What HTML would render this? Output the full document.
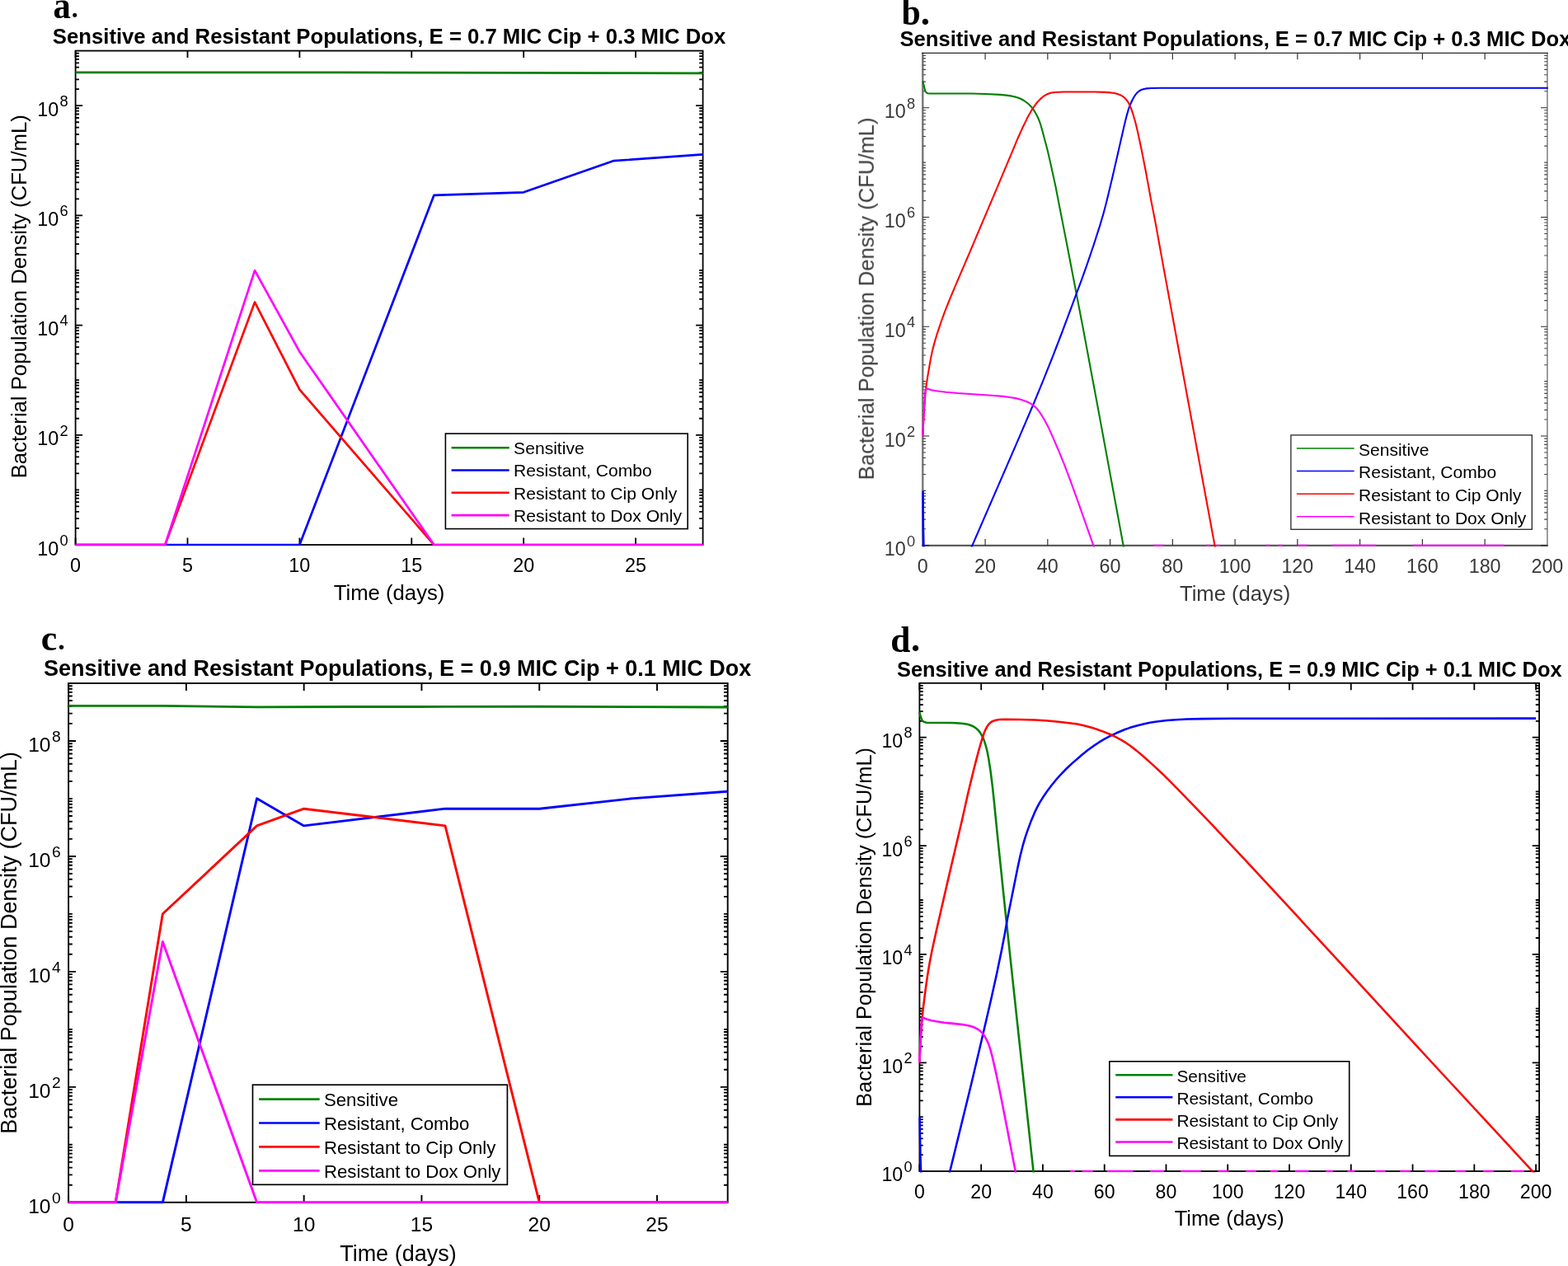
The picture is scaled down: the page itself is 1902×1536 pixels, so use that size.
<!DOCTYPE html>
<html lang="en">
<head>
<meta charset="utf-8">
<title>Sensitive and Resistant Populations</title>
<style>
html,body{margin:0;padding:0;background:#fff;}
body{width:1902px;height:1536px;overflow:hidden;}
svg{display:block;}
</style>
</head>
<body>
<svg width="1902" height="1536" viewBox="0 0 1902 1536">
<defs>
<filter id="soft" x="-5%" y="-5%" width="110%" height="110%" color-interpolation-filters="sRGB"><feGaussianBlur stdDeviation="0.55"/></filter>
</defs>
<rect width="1902" height="1536" fill="#fff"/>
<g id="panel-a">
<clipPath id="clipa"><rect x="90.1" y="60.6" width="764" height="602"/></clipPath>
<g stroke="#000" stroke-width="1.8" fill="none" stroke-linecap="butt">
<rect x="91.6" y="61.6" width="761" height="599.4"/>
<path stroke="#000" stroke-width="1.8" d="M91.6,661v-8.5M91.6,61.6v8.5M227.49,661v-8.5M227.49,61.6v8.5M363.39,661v-8.5M363.39,61.6v8.5M499.28,661v-8.5M499.28,61.6v8.5M635.17,661v-8.5M635.17,61.6v8.5M771.06,661v-8.5M771.06,61.6v8.5"/>
<path stroke="#000" stroke-width="1.8" d="M91.6,661h8.5M852.6,661h-8.5M91.6,527.8h8.5M852.6,527.8h-8.5M91.6,394.6h8.5M852.6,394.6h-8.5M91.6,261.4h8.5M852.6,261.4h-8.5M91.6,128.2h8.5M852.6,128.2h-8.5"/>
<path stroke="#000" stroke-width="1.8" d="M91.6,640.95h4.4M852.6,640.95h-4.4M91.6,629.22h4.4M852.6,629.22h-4.4M91.6,620.9h4.4M852.6,620.9h-4.4M91.6,614.45h4.4M852.6,614.45h-4.4M91.6,609.18h4.4M852.6,609.18h-4.4M91.6,604.72h4.4M852.6,604.72h-4.4M91.6,600.85h4.4M852.6,600.85h-4.4M91.6,597.45h4.4M852.6,597.45h-4.4M91.6,594.4h4.4M852.6,594.4h-4.4M91.6,574.35h4.4M852.6,574.35h-4.4M91.6,562.62h4.4M852.6,562.62h-4.4M91.6,554.3h4.4M852.6,554.3h-4.4M91.6,547.85h4.4M852.6,547.85h-4.4M91.6,542.58h4.4M852.6,542.58h-4.4M91.6,538.12h4.4M852.6,538.12h-4.4M91.6,534.25h4.4M852.6,534.25h-4.4M91.6,530.85h4.4M852.6,530.85h-4.4M91.6,507.75h4.4M852.6,507.75h-4.4M91.6,496.02h4.4M852.6,496.02h-4.4M91.6,487.7h4.4M852.6,487.7h-4.4M91.6,481.25h4.4M852.6,481.25h-4.4M91.6,475.98h4.4M852.6,475.98h-4.4M91.6,471.52h4.4M852.6,471.52h-4.4M91.6,467.65h4.4M852.6,467.65h-4.4M91.6,464.25h4.4M852.6,464.25h-4.4M91.6,461.2h4.4M852.6,461.2h-4.4M91.6,441.15h4.4M852.6,441.15h-4.4M91.6,429.42h4.4M852.6,429.42h-4.4M91.6,421.1h4.4M852.6,421.1h-4.4M91.6,414.65h4.4M852.6,414.65h-4.4M91.6,409.38h4.4M852.6,409.38h-4.4M91.6,404.92h4.4M852.6,404.92h-4.4M91.6,401.05h4.4M852.6,401.05h-4.4M91.6,397.65h4.4M852.6,397.65h-4.4M91.6,374.55h4.4M852.6,374.55h-4.4M91.6,362.82h4.4M852.6,362.82h-4.4M91.6,354.5h4.4M852.6,354.5h-4.4M91.6,348.05h4.4M852.6,348.05h-4.4M91.6,342.78h4.4M852.6,342.78h-4.4M91.6,338.32h4.4M852.6,338.32h-4.4M91.6,334.45h4.4M852.6,334.45h-4.4M91.6,331.05h4.4M852.6,331.05h-4.4M91.6,328h4.4M852.6,328h-4.4M91.6,307.95h4.4M852.6,307.95h-4.4M91.6,296.22h4.4M852.6,296.22h-4.4M91.6,287.9h4.4M852.6,287.9h-4.4M91.6,281.45h4.4M852.6,281.45h-4.4M91.6,276.18h4.4M852.6,276.18h-4.4M91.6,271.72h4.4M852.6,271.72h-4.4M91.6,267.85h4.4M852.6,267.85h-4.4M91.6,264.45h4.4M852.6,264.45h-4.4M91.6,241.35h4.4M852.6,241.35h-4.4M91.6,229.62h4.4M852.6,229.62h-4.4M91.6,221.3h4.4M852.6,221.3h-4.4M91.6,214.85h4.4M852.6,214.85h-4.4M91.6,209.58h4.4M852.6,209.58h-4.4M91.6,205.12h4.4M852.6,205.12h-4.4M91.6,201.25h4.4M852.6,201.25h-4.4M91.6,197.85h4.4M852.6,197.85h-4.4M91.6,194.8h4.4M852.6,194.8h-4.4M91.6,174.75h4.4M852.6,174.75h-4.4M91.6,163.02h4.4M852.6,163.02h-4.4M91.6,154.7h4.4M852.6,154.7h-4.4M91.6,148.25h4.4M852.6,148.25h-4.4M91.6,142.98h4.4M852.6,142.98h-4.4M91.6,138.52h4.4M852.6,138.52h-4.4M91.6,134.65h4.4M852.6,134.65h-4.4M91.6,131.25h4.4M852.6,131.25h-4.4M91.6,108.15h4.4M852.6,108.15h-4.4M91.6,96.42h4.4M852.6,96.42h-4.4M91.6,88.1h4.4M852.6,88.1h-4.4M91.6,81.65h4.4M852.6,81.65h-4.4M91.6,76.38h4.4M852.6,76.38h-4.4M91.6,71.92h4.4M852.6,71.92h-4.4M91.6,68.05h4.4M852.6,68.05h-4.4M91.6,64.65h4.4M852.6,64.65h-4.4"/>
</g>
<g clip-path="url(#clipa)" fill="none" stroke-width="2.7" stroke-linejoin="round" stroke-linecap="butt">
<path stroke="#008000" d="M91.6,87.8 L417.74,87.9 L526.46,88.2 L635.17,88.3 L743.89,88.6 L852.6,88.8"/>
<path stroke="#0000ff" d="M91.6,661 L363.39,661 L526.46,236.8 L635.17,233.3 L743.89,195.2 L852.6,187.3"/>
<path stroke="#ff0000" d="M91.6,661 L200.31,661 L309.03,366.6 L363.39,472.7 L526.46,661 L852.6,661"/>
<path stroke="#ff00ff" d="M91.6,661 L200.31,661 L309.03,328.2 L363.39,426.7 L526.46,661 L852.6,661"/>
</g>
<g font-family="'Liberation Sans', Arial, Helvetica, sans-serif" fill="#000">
<g font-size="23.4" text-anchor="middle">
<text x="91.6" y="694">0</text>
<text x="227.49" y="694">5</text>
<text x="363.39" y="694">10</text>
<text x="499.28" y="694">15</text>
<text x="635.17" y="694">20</text>
<text x="771.06" y="694">25</text>
</g>
<text font-size="23.4" text-anchor="end" x="71.2" y="673.5">10</text>
<text font-size="18.3" x="72.5" y="661.8">0</text>
<text font-size="23.4" text-anchor="end" x="71.2" y="540.3">10</text>
<text font-size="18.3" x="72.5" y="528.6">2</text>
<text font-size="23.4" text-anchor="end" x="71.2" y="407.1">10</text>
<text font-size="18.3" x="72.5" y="395.4">4</text>
<text font-size="23.4" text-anchor="end" x="71.2" y="273.9">10</text>
<text font-size="18.3" x="72.5" y="262.2">6</text>
<text font-size="23.4" text-anchor="end" x="71.2" y="140.7">10</text>
<text font-size="18.3" x="72.5" y="129">8</text>
<text font-size="25.7" text-anchor="middle" x="472.1" y="728">Time (days)</text>
<text font-size="25.7" text-anchor="middle" transform="translate(32,359.8) rotate(-90)">Bacterial Population Density (CFU/mL)</text>
<text font-size="25.7" font-weight="bold" fill="#000" text-anchor="middle" x="472.1" y="52.9">Sensitive and Resistant Populations, E = 0.7 MIC Cip + 0.3 MIC Dox</text>
</g>
<rect x="540.4" y="526.1" width="293.8" height="115.5" fill="#fff" stroke="#000" stroke-width="1.6"/>
<g font-family="'Liberation Sans', Arial, Helvetica, sans-serif" font-size="21.1" fill="#000">
<path d="M547.6,543.2H617.7" stroke="#008000" stroke-width="2.6" fill="none"/>
<text x="623.1" y="551">Sensitive</text>
<path d="M547.6,570.5H617.7" stroke="#0000ff" stroke-width="2.6" fill="none"/>
<text x="623.1" y="578.3">Resistant, Combo</text>
<path d="M547.6,597.8H617.7" stroke="#ff0000" stroke-width="2.6" fill="none"/>
<text x="623.1" y="605.6">Resistant to Cip Only</text>
<path d="M547.6,625.1H617.7" stroke="#ff00ff" stroke-width="2.6" fill="none"/>
<text x="623.1" y="632.9">Resistant to Dox Only</text>
</g>
</g>
<text font-family="'Liberation Serif', 'Times New Roman', Times, serif" font-weight="bold" fill="#000"><tspan x="64.4" y="21.9" font-size="45.5" textLength="21.32" lengthAdjust="spacingAndGlyphs">a</tspan><tspan x="86.65" y="20.7" font-size="31.5">.</tspan></text>
<g id="panel-c">
<clipPath id="clipc"><rect x="81.6" y="828" width="802.6" height="632.4"/></clipPath>
<g stroke="#000" stroke-width="1.9" fill="none" stroke-linecap="butt">
<rect x="83.1" y="829" width="799.6" height="629.8"/>
<path stroke="#000" stroke-width="1.9" d="M83.1,1458.8v-8.9M83.1,829v8.9M225.89,1458.8v-8.9M225.89,829v8.9M368.67,1458.8v-8.9M368.67,829v8.9M511.46,1458.8v-8.9M511.46,829v8.9M654.24,1458.8v-8.9M654.24,829v8.9M797.03,1458.8v-8.9M797.03,829v8.9"/>
<path stroke="#000" stroke-width="1.9" d="M83.1,1458.8h8.9M882.7,1458.8h-8.9M83.1,1318.84h8.9M882.7,1318.84h-8.9M83.1,1178.89h8.9M882.7,1178.89h-8.9M83.1,1038.93h8.9M882.7,1038.93h-8.9M83.1,898.98h8.9M882.7,898.98h-8.9"/>
<path stroke="#000" stroke-width="1.9" d="M83.1,1437.73h4.7M882.7,1437.73h-4.7M83.1,1425.41h4.7M882.7,1425.41h-4.7M83.1,1416.67h4.7M882.7,1416.67h-4.7M83.1,1409.89h4.7M882.7,1409.89h-4.7M83.1,1404.35h4.7M882.7,1404.35h-4.7M83.1,1399.66h4.7M882.7,1399.66h-4.7M83.1,1395.6h4.7M882.7,1395.6h-4.7M83.1,1392.02h4.7M882.7,1392.02h-4.7M83.1,1388.82h4.7M882.7,1388.82h-4.7M83.1,1367.76h4.7M882.7,1367.76h-4.7M83.1,1355.43h4.7M882.7,1355.43h-4.7M83.1,1346.69h4.7M882.7,1346.69h-4.7M83.1,1339.91h4.7M882.7,1339.91h-4.7M83.1,1334.37h4.7M882.7,1334.37h-4.7M83.1,1329.68h4.7M882.7,1329.68h-4.7M83.1,1325.63h4.7M882.7,1325.63h-4.7M83.1,1322.05h4.7M882.7,1322.05h-4.7M83.1,1297.78h4.7M882.7,1297.78h-4.7M83.1,1285.46h4.7M882.7,1285.46h-4.7M83.1,1276.71h4.7M882.7,1276.71h-4.7M83.1,1269.93h4.7M882.7,1269.93h-4.7M83.1,1264.39h4.7M882.7,1264.39h-4.7M83.1,1259.71h4.7M882.7,1259.71h-4.7M83.1,1255.65h4.7M882.7,1255.65h-4.7M83.1,1252.07h4.7M882.7,1252.07h-4.7M83.1,1248.87h4.7M882.7,1248.87h-4.7M83.1,1227.8h4.7M882.7,1227.8h-4.7M83.1,1215.48h4.7M882.7,1215.48h-4.7M83.1,1206.74h4.7M882.7,1206.74h-4.7M83.1,1199.95h4.7M882.7,1199.95h-4.7M83.1,1194.41h4.7M882.7,1194.41h-4.7M83.1,1189.73h4.7M882.7,1189.73h-4.7M83.1,1185.67h4.7M882.7,1185.67h-4.7M83.1,1182.09h4.7M882.7,1182.09h-4.7M83.1,1157.82h4.7M882.7,1157.82h-4.7M83.1,1145.5h4.7M882.7,1145.5h-4.7M83.1,1136.76h4.7M882.7,1136.76h-4.7M83.1,1129.98h4.7M882.7,1129.98h-4.7M83.1,1124.44h4.7M882.7,1124.44h-4.7M83.1,1119.75h4.7M882.7,1119.75h-4.7M83.1,1115.69h4.7M882.7,1115.69h-4.7M83.1,1112.11h4.7M882.7,1112.11h-4.7M83.1,1108.91h4.7M882.7,1108.91h-4.7M83.1,1087.85h4.7M882.7,1087.85h-4.7M83.1,1075.52h4.7M882.7,1075.52h-4.7M83.1,1066.78h4.7M882.7,1066.78h-4.7M83.1,1060h4.7M882.7,1060h-4.7M83.1,1054.46h4.7M882.7,1054.46h-4.7M83.1,1049.77h4.7M882.7,1049.77h-4.7M83.1,1045.71h4.7M882.7,1045.71h-4.7M83.1,1042.14h4.7M882.7,1042.14h-4.7M83.1,1017.87h4.7M882.7,1017.87h-4.7M83.1,1005.55h4.7M882.7,1005.55h-4.7M83.1,996.8h4.7M882.7,996.8h-4.7M83.1,990.02h4.7M882.7,990.02h-4.7M83.1,984.48h4.7M882.7,984.48h-4.7M83.1,979.8h4.7M882.7,979.8h-4.7M83.1,975.74h4.7M882.7,975.74h-4.7M83.1,972.16h4.7M882.7,972.16h-4.7M83.1,968.96h4.7M882.7,968.96h-4.7M83.1,947.89h4.7M882.7,947.89h-4.7M83.1,935.57h4.7M882.7,935.57h-4.7M83.1,926.82h4.7M882.7,926.82h-4.7M83.1,920.04h4.7M882.7,920.04h-4.7M83.1,914.5h4.7M882.7,914.5h-4.7M83.1,909.82h4.7M882.7,909.82h-4.7M83.1,905.76h4.7M882.7,905.76h-4.7M83.1,902.18h4.7M882.7,902.18h-4.7M83.1,877.91h4.7M882.7,877.91h-4.7M83.1,865.59h4.7M882.7,865.59h-4.7M83.1,856.85h4.7M882.7,856.85h-4.7M83.1,850.07h4.7M882.7,850.07h-4.7M83.1,844.52h4.7M882.7,844.52h-4.7M83.1,839.84h4.7M882.7,839.84h-4.7M83.1,835.78h4.7M882.7,835.78h-4.7M83.1,832.2h4.7M882.7,832.2h-4.7"/>
</g>
<g clip-path="url(#clipc)" fill="none" stroke-width="2.9" stroke-linejoin="round" stroke-linecap="butt">
<path stroke="#008000" d="M83.1,856.4 L197.33,856.4 L311.56,857.9 L425.79,857.5 L540.01,857.4 L654.24,857.3 L768.47,857.6 L882.7,858"/>
<path stroke="#0000ff" d="M83.1,1458.8 L197.33,1458.8 L311.56,968.8 L368.67,1001.9 L540.01,981.1 L654.24,981.2 L768.47,968.6 L882.7,960.2"/>
<path stroke="#ff0000" d="M83.1,1458.8 L140.21,1458.8 L197.33,1108.8 L311.56,1001.9 L368.67,981.2 L540.01,1001.9 L654.24,1458.8 L882.7,1458.8"/>
<path stroke="#ff00ff" d="M83.1,1458.8 L140.21,1458.8 L197.33,1142.4 L311.56,1458.8 L882.7,1458.8"/>
</g>
<g font-family="'Liberation Sans', Arial, Helvetica, sans-serif" fill="#000">
<g font-size="24.59" text-anchor="middle">
<text x="83.1" y="1493.6">0</text>
<text x="225.89" y="1493.6">5</text>
<text x="368.67" y="1493.6">10</text>
<text x="511.46" y="1493.6">15</text>
<text x="654.24" y="1493.6">20</text>
<text x="797.03" y="1493.6">25</text>
</g>
<text font-size="24.59" text-anchor="end" x="61.5" y="1471.9">10</text>
<text font-size="19.23" x="63.1" y="1459.6">0</text>
<text font-size="24.59" text-anchor="end" x="61.5" y="1331.94">10</text>
<text font-size="19.23" x="63.1" y="1319.64">2</text>
<text font-size="24.59" text-anchor="end" x="61.5" y="1191.99">10</text>
<text font-size="19.23" x="63.1" y="1179.69">4</text>
<text font-size="24.59" text-anchor="end" x="61.5" y="1052.03">10</text>
<text font-size="19.23" x="63.1" y="1039.73">6</text>
<text font-size="24.59" text-anchor="end" x="61.5" y="912.08">10</text>
<text font-size="19.23" x="63.1" y="899.78">8</text>
<text font-size="27.01" text-anchor="middle" x="482.9" y="1530.2">Time (days)</text>
<text font-size="27.01" text-anchor="middle" transform="translate(20,1143.9) rotate(-90)">Bacterial Population Density (CFU/mL)</text>
<text font-size="27.01" font-weight="bold" fill="#000" text-anchor="middle" x="482.1" y="820.3">Sensitive and Resistant Populations, E = 0.9 MIC Cip + 0.1 MIC Dox</text>
</g>
<rect x="306.5" y="1316.2" width="308.9" height="121.1" fill="#fff" stroke="#000" stroke-width="1.7"/>
<g font-family="'Liberation Sans', Arial, Helvetica, sans-serif" font-size="22.18" fill="#000">
<path d="M314.1,1333.6H387.7" stroke="#008000" stroke-width="2.7" fill="none"/>
<text x="393" y="1342.3">Sensitive</text>
<path d="M314.1,1362.5H387.7" stroke="#0000ff" stroke-width="2.7" fill="none"/>
<text x="393" y="1371.2">Resistant, Combo</text>
<path d="M314.1,1391.4H387.7" stroke="#ff0000" stroke-width="2.7" fill="none"/>
<text x="393" y="1400.1">Resistant to Cip Only</text>
<path d="M314.1,1420.3H387.7" stroke="#ff00ff" stroke-width="2.7" fill="none"/>
<text x="393" y="1429">Resistant to Dox Only</text>
</g>
</g>
<text font-family="'Liberation Serif', 'Times New Roman', Times, serif" font-weight="bold" fill="#000"><tspan x="49.7" y="788.9" font-size="45" textLength="19.48" lengthAdjust="spacingAndGlyphs">c</tspan><tspan x="70.27" y="788.2" font-size="34">.</tspan></text>
<g id="panel-b" filter="url(#soft)">
<clipPath id="clipb"><rect x="1117.8" y="63.4" width="760.6" height="600"/></clipPath>
<g stroke="#6a6a6a" stroke-width="2.3" fill="none" stroke-linecap="butt">
<path stroke="#7c7c7c" stroke-width="2.5" d="M1119.3,63.75V662.95"/>
<path stroke="#8c8c8c" stroke-width="1.7" d="M1876.9,63.75V662.95"/>
<path stroke="#5c5c5c" stroke-width="2.3" d="M1118.05,661.8H1877.75"/>
<path stroke="#2a2a2a" stroke-width="1.3" d="M1118.05,64.4H1877.75"/>
<path stroke="#2b2b2b" stroke-width="1.15" d="M1195.06,661.8v-7.9M1195.06,64.4v7.9M1270.82,661.8v-7.9M1270.82,64.4v7.9M1346.58,661.8v-7.9M1346.58,64.4v7.9M1422.34,661.8v-7.9M1422.34,64.4v7.9M1498.1,661.8v-7.9M1498.1,64.4v7.9M1573.86,661.8v-7.9M1573.86,64.4v7.9M1649.62,661.8v-7.9M1649.62,64.4v7.9M1725.38,661.8v-7.9M1725.38,64.4v7.9M1801.14,661.8v-7.9M1801.14,64.4v7.9"/>
<path stroke="#2b2b2b" stroke-width="1.15" d="M1119.3,661.8h7.9M1876.9,661.8h-7.9M1119.3,529.04h7.9M1876.9,529.04h-7.9M1119.3,396.29h7.9M1876.9,396.29h-7.9M1119.3,263.53h7.9M1876.9,263.53h-7.9M1119.3,130.78h7.9M1876.9,130.78h-7.9"/>
<path stroke="#444" stroke-width="1.1" d="M1119.3,641.82h3.7M1876.9,641.82h-3.7M1119.3,630.13h3.7M1876.9,630.13h-3.7M1119.3,621.84h3.7M1876.9,621.84h-3.7M1119.3,615.4h3.7M1876.9,615.4h-3.7M1119.3,610.15h3.7M1876.9,610.15h-3.7M1119.3,605.7h3.7M1876.9,605.7h-3.7M1119.3,601.85h3.7M1876.9,601.85h-3.7M1119.3,598.46h3.7M1876.9,598.46h-3.7M1119.3,595.42h3.7M1876.9,595.42h-3.7M1119.3,575.44h3.7M1876.9,575.44h-3.7M1119.3,563.75h3.7M1876.9,563.75h-3.7M1119.3,555.46h3.7M1876.9,555.46h-3.7M1119.3,549.03h3.7M1876.9,549.03h-3.7M1119.3,543.77h3.7M1876.9,543.77h-3.7M1119.3,539.33h3.7M1876.9,539.33h-3.7M1119.3,535.48h3.7M1876.9,535.48h-3.7M1119.3,532.08h3.7M1876.9,532.08h-3.7M1119.3,509.06h3.7M1876.9,509.06h-3.7M1119.3,497.37h3.7M1876.9,497.37h-3.7M1119.3,489.08h3.7M1876.9,489.08h-3.7M1119.3,482.65h3.7M1876.9,482.65h-3.7M1119.3,477.39h3.7M1876.9,477.39h-3.7M1119.3,472.95h3.7M1876.9,472.95h-3.7M1119.3,469.1h3.7M1876.9,469.1h-3.7M1119.3,465.7h3.7M1876.9,465.7h-3.7M1119.3,462.67h3.7M1876.9,462.67h-3.7M1119.3,442.68h3.7M1876.9,442.68h-3.7M1119.3,431h3.7M1876.9,431h-3.7M1119.3,422.7h3.7M1876.9,422.7h-3.7M1119.3,416.27h3.7M1876.9,416.27h-3.7M1119.3,411.01h3.7M1876.9,411.01h-3.7M1119.3,406.57h3.7M1876.9,406.57h-3.7M1119.3,402.72h3.7M1876.9,402.72h-3.7M1119.3,399.33h3.7M1876.9,399.33h-3.7M1119.3,376.31h3.7M1876.9,376.31h-3.7M1119.3,364.62h3.7M1876.9,364.62h-3.7M1119.3,356.33h3.7M1876.9,356.33h-3.7M1119.3,349.89h3.7M1876.9,349.89h-3.7M1119.3,344.64h3.7M1876.9,344.64h-3.7M1119.3,340.19h3.7M1876.9,340.19h-3.7M1119.3,336.34h3.7M1876.9,336.34h-3.7M1119.3,332.95h3.7M1876.9,332.95h-3.7M1119.3,329.91h3.7M1876.9,329.91h-3.7M1119.3,309.93h3.7M1876.9,309.93h-3.7M1119.3,298.24h3.7M1876.9,298.24h-3.7M1119.3,289.95h3.7M1876.9,289.95h-3.7M1119.3,283.52h3.7M1876.9,283.52h-3.7M1119.3,278.26h3.7M1876.9,278.26h-3.7M1119.3,273.82h3.7M1876.9,273.82h-3.7M1119.3,269.97h3.7M1876.9,269.97h-3.7M1119.3,266.57h3.7M1876.9,266.57h-3.7M1119.3,243.55h3.7M1876.9,243.55h-3.7M1119.3,231.86h3.7M1876.9,231.86h-3.7M1119.3,223.57h3.7M1876.9,223.57h-3.7M1119.3,217.14h3.7M1876.9,217.14h-3.7M1119.3,211.88h3.7M1876.9,211.88h-3.7M1119.3,207.44h3.7M1876.9,207.44h-3.7M1119.3,203.59h3.7M1876.9,203.59h-3.7M1119.3,200.19h3.7M1876.9,200.19h-3.7M1119.3,197.16h3.7M1876.9,197.16h-3.7M1119.3,177.17h3.7M1876.9,177.17h-3.7M1119.3,165.49h3.7M1876.9,165.49h-3.7M1119.3,157.19h3.7M1876.9,157.19h-3.7M1119.3,150.76h3.7M1876.9,150.76h-3.7M1119.3,145.5h3.7M1876.9,145.5h-3.7M1119.3,141.06h3.7M1876.9,141.06h-3.7M1119.3,137.21h3.7M1876.9,137.21h-3.7M1119.3,133.82h3.7M1876.9,133.82h-3.7M1119.3,110.8h3.7M1876.9,110.8h-3.7M1119.3,99.11h3.7M1876.9,99.11h-3.7M1119.3,90.81h3.7M1876.9,90.81h-3.7M1119.3,84.38h3.7M1876.9,84.38h-3.7M1119.3,79.13h3.7M1876.9,79.13h-3.7M1119.3,74.68h3.7M1876.9,74.68h-3.7M1119.3,70.83h3.7M1876.9,70.83h-3.7M1119.3,67.44h3.7M1876.9,67.44h-3.7"/>
</g>
<g clip-path="url(#clipb)" fill="none" stroke-width="2.1" stroke-linejoin="round" stroke-linecap="butt">
<path stroke="#008000" d="M1119.4,98.4 L1121.73,108.38 L1122.69,110.96 L1123.21,111.81 L1124.32,112.8 L1125.22,113.24 L1127.95,113.49 L1178.45,113.49 L1195.45,113.93 L1213.17,114.9 L1220.88,115.65 L1227.55,116.66 L1231.93,117.63 L1235.48,118.77 L1238.89,120.28 L1242.36,122.25 L1245.62,124.54 L1248.46,126.96 L1251.04,129.66 L1253.34,132.6 L1255.75,136.38 L1258.21,141.01 L1260.35,145.8 L1262.13,150.73 L1264.21,157.93 L1270.72,182.59 L1274.03,196.96 L1280.16,224.79 L1287.22,261.11 L1293.4,292.51 L1313.96,399.3 L1331.64,493.91 L1364.07,669.69"/>
<path stroke="#0000ff" d="M1175.93,669.75 L1235.66,532.16 L1253.28,491.02 L1265.58,461.21 L1277.49,431.24 L1288.34,403 L1312.31,338.56 L1318.88,320.21 L1326.71,296.99 L1333.9,274.62 L1338.44,259.28 L1341.83,246.47 L1348.99,216.82 L1356.95,181.97 L1363.72,152.23 L1366.68,140.34 L1368.9,132.66 L1370.75,127.49 L1372.96,122.46 L1375.17,118.27 L1377.2,115.14 L1379.08,112.84 L1380.86,111.16 L1382.86,109.78 L1385.06,108.73 L1387.64,107.96 L1391.07,107.39 L1396.54,107.02 L1407.29,106.82 L1877.79,106.75"/>
<path stroke="#0000ff" stroke-width="2.6" d="M1119.5,595.7 L1119.9,640 L1120.4,663.75"/>
<path stroke="#ff0000" d="M1119.3,529.3 L1120.9,500.09 L1122.27,480.89 L1123.4,469.2 L1124.93,458.56 L1128.96,435.15 L1131.04,425.37 L1133.44,415.93 L1136.52,405.63 L1141.92,389.51 L1145.87,378.71 L1152.22,362.67 L1160.74,342.39 L1175.12,308.84 L1206.9,233.79 L1227.49,184.95 L1234.96,166.95 L1240.63,154.42 L1245.78,143.86 L1249.91,136.15 L1252.91,131.25 L1256.09,126.77 L1259.27,122.92 L1262.23,119.89 L1265.06,117.46 L1267.72,115.62 L1270.33,114.22 L1272.86,113.25 L1275.74,112.54 L1279.69,112.05 L1289.92,111.53 L1303.67,111.44 L1327.92,111.52 L1340.66,111.92 L1347.39,112.42 L1351.83,113.06 L1355.46,113.93 L1358.25,114.94 L1360.67,116.16 L1362.91,117.68 L1364.94,119.48 L1366.9,121.71 L1368.57,124.17 L1370.19,127.24 L1372.09,131.85 L1374.51,138.95 L1377.09,147.83 L1379.67,158.27 L1384.29,179.77 L1389.58,206.5 L1393.81,229.62 L1396.93,246.59 L1401.11,267.67 L1410.5,319.58 L1433.97,447.19 L1458.33,579.72 L1474.96,669.7"/>
<path stroke="#ff00ff" d="M1119.3,529.3 L1121.36,488.35 L1122.21,476.63 L1122.71,472.67 L1122.96,471.7 L1123.1,471.5 L1124.59,471.63 L1126.99,472.32 L1129.84,473.26 L1137.46,474.57 L1147.39,475.75 L1161.59,476.99 L1183.79,478.43 L1202.75,479.68 L1216.69,480.91 L1225.13,481.96 L1231.77,483.14 L1237.35,484.5 L1242.1,486.03 L1246.5,487.81 L1250.05,489.61 L1252.98,491.48 L1255.48,493.51 L1257.92,496 L1260.57,499.3 L1263.34,503.45 L1268.14,511.64 L1271.5,518.06 L1275.65,527.16 L1284.59,547.81 L1290.82,563.09 L1297.75,581.31 L1306.99,606.95 L1325.84,660.47 L1329.15,669.65M1398.8,661.8H1411.5M1463.5,661.8H1467.7M1475.6,661.8H1479.8M1535.9,661.8H1540.2M1550.7,661.8H1555.4M1574,661.8H1586.2M1615.2,661.8H1669.1M1713.5,661.8H1825.1"/>
</g>
<g font-family="'Liberation Sans', Arial, Helvetica, sans-serif" fill="#383838">
<g font-size="23.33" text-anchor="middle">
<text x="1119.3" y="694.8">0</text>
<text x="1195.06" y="694.8">20</text>
<text x="1270.82" y="694.8">40</text>
<text x="1346.58" y="694.8">60</text>
<text x="1422.34" y="694.8">80</text>
<text x="1498.1" y="694.8">100</text>
<text x="1573.86" y="694.8">120</text>
<text x="1649.62" y="694.8">140</text>
<text x="1725.38" y="694.8">160</text>
<text x="1801.14" y="694.8">180</text>
<text x="1876.9" y="694.8">200</text>
</g>
<text font-size="23.33" text-anchor="end" x="1098.7" y="674.3">10</text>
<text font-size="18.25" x="1099.9" y="662.6">0</text>
<text font-size="23.33" text-anchor="end" x="1098.7" y="541.54">10</text>
<text font-size="18.25" x="1099.9" y="529.84">2</text>
<text font-size="23.33" text-anchor="end" x="1098.7" y="408.79">10</text>
<text font-size="18.25" x="1099.9" y="397.09">4</text>
<text font-size="23.33" text-anchor="end" x="1098.7" y="276.03">10</text>
<text font-size="18.25" x="1099.9" y="264.33">6</text>
<text font-size="23.33" text-anchor="end" x="1098.7" y="143.28">10</text>
<text font-size="18.25" x="1099.9" y="131.58">8</text>
<text font-size="25.62" text-anchor="middle" x="1498.1" y="729">Time (days)</text>
<text font-size="25.62" text-anchor="middle" transform="translate(1059.8,362.3) rotate(-90)">Bacterial Population Density (CFU/mL)</text>
<text font-size="25.62" font-weight="bold" fill="#000" text-anchor="middle" x="1498.5" y="55.6">Sensitive and Resistant Populations, E = 0.7 MIC Cip + 0.3 MIC Dox</text>
</g>
<rect x="1565.9" y="527.9" width="292.4" height="114.4" fill="#fff" stroke="#262626" stroke-width="1.3"/>
<g font-family="'Liberation Sans', Arial, Helvetica, sans-serif" font-size="21.04" fill="#000">
<path d="M1572.9,544H1642.7" stroke="#008000" stroke-width="1.5" fill="none"/>
<text x="1648" y="552.7">Sensitive</text>
<path d="M1572.9,571.6H1642.7" stroke="#0000ff" stroke-width="1.5" fill="none"/>
<text x="1648" y="580.3">Resistant, Combo</text>
<path d="M1572.9,599.2H1642.7" stroke="#ff0000" stroke-width="1.5" fill="none"/>
<text x="1648" y="607.9">Resistant to Cip Only</text>
<path d="M1572.9,626.8H1642.7" stroke="#ff00ff" stroke-width="1.5" fill="none"/>
<text x="1648" y="635.5">Resistant to Dox Only</text>
</g>
</g>
<text font-family="'Liberation Serif', 'Times New Roman', Times, serif" font-weight="bold" fill="#000"><tspan x="1093.6" y="29.5" font-size="45.5" textLength="23.27" lengthAdjust="spacingAndGlyphs">b</tspan><tspan x="1116.8" y="30" font-size="45">.</tspan></text>
<g id="panel-d">
<clipPath id="clipd"><rect x="1113.9" y="827.8" width="754.7" height="594.8"/></clipPath>
<g stroke="#000" stroke-width="1.8" fill="none" stroke-linecap="butt">
<rect x="1115.4" y="828.8" width="751.7" height="592.2"/>
<path stroke="#000" stroke-width="1.8" d="M1115.4,1421v-8.4M1115.4,828.8v8.4M1190.17,1421v-8.4M1190.17,828.8v8.4M1264.94,1421v-8.4M1264.94,828.8v8.4M1339.71,1421v-8.4M1339.71,828.8v8.4M1414.48,1421v-8.4M1414.48,828.8v8.4M1489.25,1421v-8.4M1489.25,828.8v8.4M1564.02,1421v-8.4M1564.02,828.8v8.4M1638.79,1421v-8.4M1638.79,828.8v8.4M1713.56,1421v-8.4M1713.56,828.8v8.4M1788.33,1421v-8.4M1788.33,828.8v8.4M1863.1,1421v-8.4M1863.1,828.8v8.4"/>
<path stroke="#000" stroke-width="1.8" d="M1115.4,1421h8.4M1867.1,1421h-8.4M1115.4,1289.4h8.4M1867.1,1289.4h-8.4M1115.4,1157.8h8.4M1867.1,1157.8h-8.4M1115.4,1026.2h8.4M1867.1,1026.2h-8.4M1115.4,894.6h8.4M1867.1,894.6h-8.4"/>
<path stroke="#000" stroke-width="1.8" d="M1115.4,1401.19h4.3M1867.1,1401.19h-4.3M1115.4,1389.61h4.3M1867.1,1389.61h-4.3M1115.4,1381.38h4.3M1867.1,1381.38h-4.3M1115.4,1375.01h4.3M1867.1,1375.01h-4.3M1115.4,1369.8h4.3M1867.1,1369.8h-4.3M1115.4,1365.39h4.3M1867.1,1365.39h-4.3M1115.4,1361.58h4.3M1867.1,1361.58h-4.3M1115.4,1358.21h4.3M1867.1,1358.21h-4.3M1115.4,1355.2h4.3M1867.1,1355.2h-4.3M1115.4,1335.39h4.3M1867.1,1335.39h-4.3M1115.4,1323.81h4.3M1867.1,1323.81h-4.3M1115.4,1315.58h4.3M1867.1,1315.58h-4.3M1115.4,1309.21h4.3M1867.1,1309.21h-4.3M1115.4,1304h4.3M1867.1,1304h-4.3M1115.4,1299.59h4.3M1867.1,1299.59h-4.3M1115.4,1295.78h4.3M1867.1,1295.78h-4.3M1115.4,1292.41h4.3M1867.1,1292.41h-4.3M1115.4,1269.59h4.3M1867.1,1269.59h-4.3M1115.4,1258.01h4.3M1867.1,1258.01h-4.3M1115.4,1249.78h4.3M1867.1,1249.78h-4.3M1115.4,1243.41h4.3M1867.1,1243.41h-4.3M1115.4,1238.2h4.3M1867.1,1238.2h-4.3M1115.4,1233.79h4.3M1867.1,1233.79h-4.3M1115.4,1229.98h4.3M1867.1,1229.98h-4.3M1115.4,1226.61h4.3M1867.1,1226.61h-4.3M1115.4,1223.6h4.3M1867.1,1223.6h-4.3M1115.4,1203.79h4.3M1867.1,1203.79h-4.3M1115.4,1192.21h4.3M1867.1,1192.21h-4.3M1115.4,1183.98h4.3M1867.1,1183.98h-4.3M1115.4,1177.61h4.3M1867.1,1177.61h-4.3M1115.4,1172.4h4.3M1867.1,1172.4h-4.3M1115.4,1167.99h4.3M1867.1,1167.99h-4.3M1115.4,1164.18h4.3M1867.1,1164.18h-4.3M1115.4,1160.81h4.3M1867.1,1160.81h-4.3M1115.4,1137.99h4.3M1867.1,1137.99h-4.3M1115.4,1126.41h4.3M1867.1,1126.41h-4.3M1115.4,1118.18h4.3M1867.1,1118.18h-4.3M1115.4,1111.81h4.3M1867.1,1111.81h-4.3M1115.4,1106.6h4.3M1867.1,1106.6h-4.3M1115.4,1102.19h4.3M1867.1,1102.19h-4.3M1115.4,1098.38h4.3M1867.1,1098.38h-4.3M1115.4,1095.01h4.3M1867.1,1095.01h-4.3M1115.4,1092h4.3M1867.1,1092h-4.3M1115.4,1072.19h4.3M1867.1,1072.19h-4.3M1115.4,1060.61h4.3M1867.1,1060.61h-4.3M1115.4,1052.38h4.3M1867.1,1052.38h-4.3M1115.4,1046.01h4.3M1867.1,1046.01h-4.3M1115.4,1040.8h4.3M1867.1,1040.8h-4.3M1115.4,1036.39h4.3M1867.1,1036.39h-4.3M1115.4,1032.58h4.3M1867.1,1032.58h-4.3M1115.4,1029.21h4.3M1867.1,1029.21h-4.3M1115.4,1006.39h4.3M1867.1,1006.39h-4.3M1115.4,994.81h4.3M1867.1,994.81h-4.3M1115.4,986.58h4.3M1867.1,986.58h-4.3M1115.4,980.21h4.3M1867.1,980.21h-4.3M1115.4,975h4.3M1867.1,975h-4.3M1115.4,970.59h4.3M1867.1,970.59h-4.3M1115.4,966.78h4.3M1867.1,966.78h-4.3M1115.4,963.41h4.3M1867.1,963.41h-4.3M1115.4,960.4h4.3M1867.1,960.4h-4.3M1115.4,940.59h4.3M1867.1,940.59h-4.3M1115.4,929.01h4.3M1867.1,929.01h-4.3M1115.4,920.78h4.3M1867.1,920.78h-4.3M1115.4,914.41h4.3M1867.1,914.41h-4.3M1115.4,909.2h4.3M1867.1,909.2h-4.3M1115.4,904.79h4.3M1867.1,904.79h-4.3M1115.4,900.98h4.3M1867.1,900.98h-4.3M1115.4,897.61h4.3M1867.1,897.61h-4.3M1115.4,874.79h4.3M1867.1,874.79h-4.3M1115.4,863.21h4.3M1867.1,863.21h-4.3M1115.4,854.98h4.3M1867.1,854.98h-4.3M1115.4,848.61h4.3M1867.1,848.61h-4.3M1115.4,843.4h4.3M1867.1,843.4h-4.3M1115.4,838.99h4.3M1867.1,838.99h-4.3M1115.4,835.18h4.3M1867.1,835.18h-4.3M1115.4,831.81h4.3M1867.1,831.81h-4.3"/>
</g>
<g clip-path="url(#clipd)" fill="none" stroke-width="2.55" stroke-linejoin="round" stroke-linecap="butt">
<path stroke="#008000" d="M1115.2,863.66 L1116.59,868.98 L1118.11,873.21 L1118.6,874.09 L1119.68,875.12 L1120.99,875.85 L1122.86,876.54 L1124.1,876.7 L1154.84,876.98 L1163.58,877.41 L1169.29,878.01 L1173.47,878.76 L1176.82,879.72 L1179.79,880.97 L1182.38,882.44 L1184.77,884.21 L1186.73,886.1 L1188.6,888.41 L1190.46,891.35 L1192.38,895.14 L1194.15,899.53 L1195.72,904.54 L1197.59,912.06 L1199.13,919.91 L1201.55,935.47 L1203.88,954.07 L1205.74,971.47 L1209.67,1011.28 L1219.82,1109 L1234.19,1242.73 L1253.62,1422.18 L1254.33,1428.9"/>
<path stroke="#0000ff" d="M1115.6,1355.2 L1116.4,1400 L1117.2,1423.9M1150.38,1428.9 L1178.16,1315.25 L1188.71,1270.47 L1202.07,1213.01 L1209.04,1181.52 L1214.93,1153.12 L1218.52,1134.47 L1222.23,1113.54 L1234.14,1054.23 L1237.68,1037.85 L1240.48,1026.7 L1243.39,1016.62 L1246.25,1008.08 L1250.88,995.67 L1254.55,986.91 L1257.84,979.89 L1260.93,974.18 L1265,967.59 L1270.35,959.74 L1275.59,952.73 L1281.14,945.97 L1287.81,938.52 L1293.91,932.25 L1299.94,926.63 L1312.21,915.97 L1319.23,910.34 L1326.29,905.17 L1333.36,900.46 L1340.22,896.36 L1346.84,892.82 L1353.86,889.55 L1364,885.28 L1370.11,883.08 L1378.01,880.72 L1386.97,878.42 L1394.8,876.82 L1403.2,875.53 L1415.62,874.07 L1426.58,873.16 L1439.56,872.49 L1458.56,872.13 L1492.06,871.83 L1618.81,871.66 L1863.06,871.6"/>
<path stroke="#ff0000" d="M1115.3,1289.3 L1116.9,1259.59 L1118.38,1238.14 L1119.46,1226.45 L1122.58,1201.14 L1124.96,1184.3 L1127.59,1168.52 L1130.53,1153.31 L1136.19,1127.42 L1148.79,1072.6 L1166.74,995.92 L1174.55,961.03 L1181.51,932.37 L1186.97,911.31 L1190.37,899.55 L1193.35,890.27 L1195.11,885.86 L1196.91,882.3 L1198.65,879.6 L1200.26,877.74 L1201.94,876.33 L1203.82,875.2 L1206.33,874.17 L1209.21,873.42 L1212.41,872.99 L1217.64,872.83 L1237.14,872.91 L1255.63,873.6 L1271.1,874.54 L1284.05,875.66 L1299.2,877.4 L1306.86,878.56 L1313.71,879.99 L1322.18,882.19 L1329.58,884.48 L1338.98,887.87 L1346.62,890.99 L1353.41,894.17 L1359.81,897.57 L1365.36,900.94 L1370.91,904.79 L1378.83,910.88 L1386.14,916.95 L1398.63,928.11 L1409.94,938.71 L1420.97,949.6 L1437.55,966.6 L1466.52,996.66 L1508.79,1041.68 L1562.38,1099.39 L1645.5,1189.71 L1736.39,1288.51 L1866.28,1428.88"/>
<path stroke="#ff00ff" d="M1115.3,1289.3 L1117.18,1249.34 L1117.93,1238.62 L1118.36,1235.4 L1118.59,1234.69 L1119.32,1234.68 L1121,1235.13 L1124.9,1236.84 L1129.24,1237.95 L1136.11,1239.28 L1145.5,1240.72 L1156.44,1241.89 L1167.38,1243 L1173.05,1243.93 L1177.66,1245.03 L1181.2,1246.22 L1184.14,1247.56 L1186.69,1249.1 L1189.04,1250.93 L1191.32,1253.21 L1193.48,1255.94 L1195.62,1259.31 L1197.68,1263.3 L1199.49,1267.68 L1201.42,1273.62 L1203.55,1281.59 L1207.63,1299.38 L1212.87,1324.33 L1220.67,1364.07 L1231.19,1418.31 L1233.31,1428.85M1298,1421H1304M1312.6,1421H1325.9M1342.7,1421H1374.7M1395,1421H1412.1M1432.1,1421H1456.7M1477.3,1421H1490.3M1510.9,1421H1524M1540.8,1421H1550.3M1570.9,1421H1587.5M1608.1,1421H1617.1M1634.4,1421H1643.4M1668,1421H1680.7M1698.3,1421H1711M1728.3,1421H1744.8M1765.3,1421H1778.2M1799.1,1421H1811.8M1832.9,1421H1848.8"/>
</g>
<g font-family="'Liberation Sans', Arial, Helvetica, sans-serif" fill="#000">
<g font-size="23.12" text-anchor="middle">
<text x="1115.4" y="1453.7">0</text>
<text x="1190.17" y="1453.7">20</text>
<text x="1264.94" y="1453.7">40</text>
<text x="1339.71" y="1453.7">60</text>
<text x="1414.48" y="1453.7">80</text>
<text x="1489.25" y="1453.7">100</text>
<text x="1564.02" y="1453.7">120</text>
<text x="1638.79" y="1453.7">140</text>
<text x="1713.56" y="1453.7">160</text>
<text x="1788.33" y="1453.7">180</text>
<text x="1863.1" y="1453.7">200</text>
</g>
<text font-size="23.12" text-anchor="end" x="1095.2" y="1433.4">10</text>
<text font-size="18.08" x="1096.5" y="1421.8">0</text>
<text font-size="23.12" text-anchor="end" x="1095.2" y="1301.8">10</text>
<text font-size="18.08" x="1096.5" y="1290.2">2</text>
<text font-size="23.12" text-anchor="end" x="1095.2" y="1170.2">10</text>
<text font-size="18.08" x="1096.5" y="1158.6">4</text>
<text font-size="23.12" text-anchor="end" x="1095.2" y="1038.6">10</text>
<text font-size="18.08" x="1096.5" y="1027">6</text>
<text font-size="23.12" text-anchor="end" x="1095.2" y="907">10</text>
<text font-size="18.08" x="1096.5" y="895.4">8</text>
<text font-size="25.39" text-anchor="middle" x="1491.25" y="1487.2">Time (days)</text>
<text font-size="25.39" text-anchor="middle" transform="translate(1056.5,1124.9) rotate(-90)">Bacterial Population Density (CFU/mL)</text>
<text font-size="25.39" font-weight="bold" fill="#000" text-anchor="middle" x="1491.25" y="820.9">Sensitive and Resistant Populations, E = 0.9 MIC Cip + 0.1 MIC Dox</text>
</g>
<rect x="1345.8" y="1287.8" width="290.9" height="114.6" fill="#fff" stroke="#000" stroke-width="1.6"/>
<g font-family="'Liberation Sans', Arial, Helvetica, sans-serif" font-size="20.85" fill="#000">
<path d="M1353.2,1304.2H1422.4" stroke="#008000" stroke-width="2.6" fill="none"/>
<text x="1427.4" y="1312.6">Sensitive</text>
<path d="M1353.2,1331.3H1422.4" stroke="#0000ff" stroke-width="2.6" fill="none"/>
<text x="1427.4" y="1339.7">Resistant, Combo</text>
<path d="M1353.2,1358.4H1422.4" stroke="#ff0000" stroke-width="2.6" fill="none"/>
<text x="1427.4" y="1366.8">Resistant to Cip Only</text>
<path d="M1353.2,1385.5H1422.4" stroke="#ff00ff" stroke-width="2.6" fill="none"/>
<text x="1427.4" y="1393.9">Resistant to Dox Only</text>
</g>
</g>
<text font-family="'Liberation Serif', 'Times New Roman', Times, serif" font-weight="bold" fill="#000"><tspan x="1080.2" y="790.5" font-size="44.5" textLength="24.12" lengthAdjust="spacingAndGlyphs">d</tspan><tspan x="1105" y="790.3" font-size="44.7">.</tspan></text>
</svg>
</body>
</html>
